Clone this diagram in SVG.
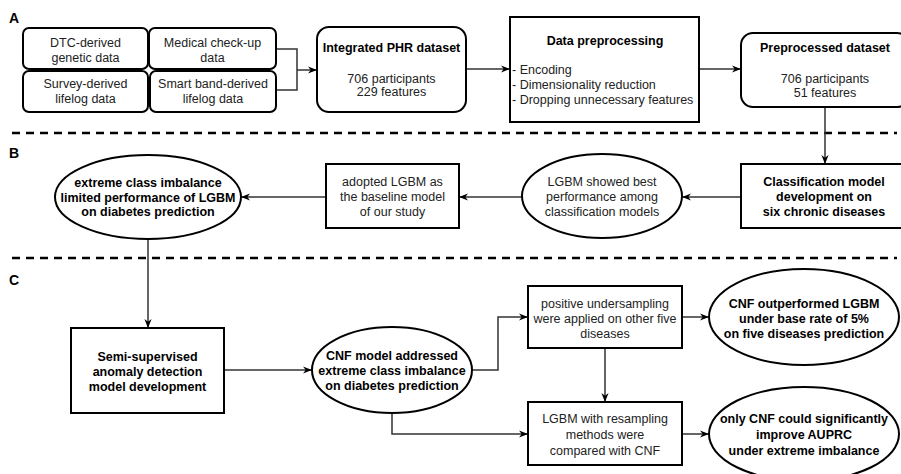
<svg xmlns="http://www.w3.org/2000/svg" width="901" height="474" viewBox="0 0 901 474">
<style>
text{font-family:"Liberation Sans",Arial,sans-serif;font-size:12.5px;fill:#222;text-anchor:middle}
.b{font-weight:bold;fill:#000}
.l{text-anchor:start}
.lab{font-weight:bold;font-size:14px;fill:#000;text-anchor:start}
.n{fill:#fff;stroke:#000;stroke-width:2}
.c{fill:none;stroke:#333;stroke-width:1.5}
.d{stroke:#000;stroke-width:2.5;stroke-dasharray:8 6;fill:none}
</style>
<defs>
<marker id="ar" viewBox="0 0 10 10" refX="10" refY="5" markerWidth="9" markerHeight="9" markerUnits="userSpaceOnUse" orient="auto">
<path d="M0,1 L10,5 L0,9 L3,5 z" fill="#000"/>
</marker>
</defs>
<rect width="901" height="474" fill="#fff"/>
<g id="labels">
<text class="lab" x="9" y="23">A</text>
<text class="lab" x="9" y="158">B</text>
<text class="lab" x="9" y="285">C</text>
<path class="d" d="M12,133 H897"/>
<path class="d" d="M12,258 H897"/>
</g>
<g id="connectors">
<path class="c" d="M276,49 H297 V90 H276"/>
<path class="c" d="M297,70 H317" marker-end="url(#ar)"/>
<path class="c" d="M466,69 H510" marker-end="url(#ar)"/>
<path class="c" d="M699,69 H741" marker-end="url(#ar)"/>
<path class="c" d="M825,107 V164" marker-end="url(#ar)"/>
<path class="c" d="M741,197 H682" marker-end="url(#ar)"/>
<path class="c" d="M522,197 H459" marker-end="url(#ar)"/>
<path class="c" d="M326,197 H241" marker-end="url(#ar)"/>
<path class="c" d="M148,239 V328" marker-end="url(#ar)"/>
<path class="c" d="M224,370 H312" marker-end="url(#ar)"/>
<path class="c" d="M472,370 H498 V317 H528" marker-end="url(#ar)"/>
<path class="c" d="M682,317 H709" marker-end="url(#ar)"/>
<path class="c" d="M605,348 V402" marker-end="url(#ar)"/>
<path class="c" d="M392,413 V434 H528" marker-end="url(#ar)"/>
<path class="c" d="M682,434 H709" marker-end="url(#ar)"/>
</g>
<g id="dtc">
<rect class="n" x="23" y="28" width="125" height="41" rx="6"/>
<text x="85.5" y="46.5">DTC-derived</text>
<text x="85.5" y="61.5">genetic data</text>
</g>
<g id="medical">
<rect class="n" x="149" y="28" width="127" height="41" rx="6"/>
<text x="212.5" y="46.5">Medical check-up</text>
<text x="212.5" y="61.5">data</text>
</g>
<g id="survey">
<rect class="n" x="23" y="71" width="125" height="41" rx="6"/>
<text x="85.5" y="87.5">Survey-derived</text>
<text x="85.5" y="102.5">lifelog data</text>
</g>
<g id="smartband">
<rect class="n" x="150" y="71" width="126" height="41" rx="6"/>
<text x="213" y="87.5">Smart band-derived</text>
<text x="213" y="102.5">lifelog data</text>
</g>
<g id="integrated">
<rect class="n" x="317" y="27" width="149" height="85" rx="12"/>
<text class="b" x="391.5" y="51.5">Integrated PHR dataset</text>
<text x="391.5" y="82.5">706 participants</text>
<text x="391.5" y="96">229 features</text>
</g>
<g id="preprocessing">
<rect class="n" x="510" y="17" width="189" height="105"/>
<text class="b" x="605" y="44.5">Data preprocessing</text>
<text class="l" x="512" y="74">- Encoding</text>
<text class="l" x="512" y="89">- Dimensionality reduction</text>
<text class="l" x="512" y="104">- Dropping unnecessary features</text>
</g>
<g id="preprocessed">
<rect class="n" x="741" y="33" width="168" height="74" rx="12"/>
<text class="b" x="825" y="51.5">Preprocessed dataset</text>
<text x="825" y="82.5">706 participants</text>
<text x="825" y="96.5">51 features</text>
</g>
<g id="classification">
<rect class="n" x="741" y="164" width="168" height="64"/>
<text class="b" x="824" y="185.5">Classification model</text>
<text class="b" x="824" y="200.5">development on</text>
<text class="b" x="824" y="215.5">six chronic diseases</text>
</g>
<g id="lgbmbest">
<ellipse class="n" cx="602" cy="196" rx="80" ry="42"/>
<text x="602" y="185.5">LGBM showed best</text>
<text x="602" y="200.5">performance among</text>
<text x="602" y="215.5">classification models</text>
</g>
<g id="adopted">
<rect class="n" x="326" y="164" width="133" height="64"/>
<text x="392.5" y="186">adopted LGBM as</text>
<text x="392.5" y="201">the baseline model</text>
<text x="392.5" y="216">of our study</text>
</g>
<g id="imbalance">
<ellipse class="n" cx="148" cy="197" rx="93" ry="42"/>
<text class="b" x="148" y="186.5">extreme class imbalance</text>
<text class="b" x="148" y="201.5">limited performance of LGBM</text>
<text class="b" x="148" y="216">on diabetes prediction</text>
</g>
<g id="semisupervised">
<rect class="n" x="71" y="328" width="153" height="85"/>
<text class="b" x="147.5" y="360.5">Semi-supervised</text>
<text class="b" x="147.5" y="375.5">anomaly detection</text>
<text class="b" x="147.5" y="390.5">model development</text>
</g>
<g id="cnfmodel">
<ellipse class="n" cx="392" cy="370" rx="80" ry="43"/>
<text class="b" x="392" y="360">CNF model addressed</text>
<text class="b" x="392" y="375">extreme class imbalance</text>
<text class="b" x="392" y="390">on diabetes prediction</text>
</g>
<g id="undersampling">
<rect class="n" x="528" y="286" width="154" height="62"/>
<text x="605" y="307.5">positive undersampling</text>
<text x="605" y="322.5">were applied on other five</text>
<text x="605" y="337.5">diseases</text>
</g>
<g id="outperformed">
<ellipse class="n" cx="804" cy="317" rx="95" ry="48"/>
<text class="b" x="804" y="307.5">CNF outperformed LGBM</text>
<text class="b" x="804" y="322.5">under base rate of 5%</text>
<text class="b" x="804" y="337.5">on five diseases prediction</text>
</g>
<g id="resampling">
<rect class="n" x="528" y="402" width="154" height="63"/>
<text x="605" y="422.5">LGBM with resampling</text>
<text x="605" y="438.5">methods were</text>
<text x="605" y="454.5">compared with CNF</text>
</g>
<g id="onlycnf">
<ellipse class="n" cx="804" cy="434" rx="95" ry="47"/>
<text class="b" x="804" y="423">only CNF could significantly</text>
<text class="b" x="804" y="438.5">improve AUPRC</text>
<text class="b" x="804" y="454.5">under extreme imbalance</text>
</g>
</svg>
